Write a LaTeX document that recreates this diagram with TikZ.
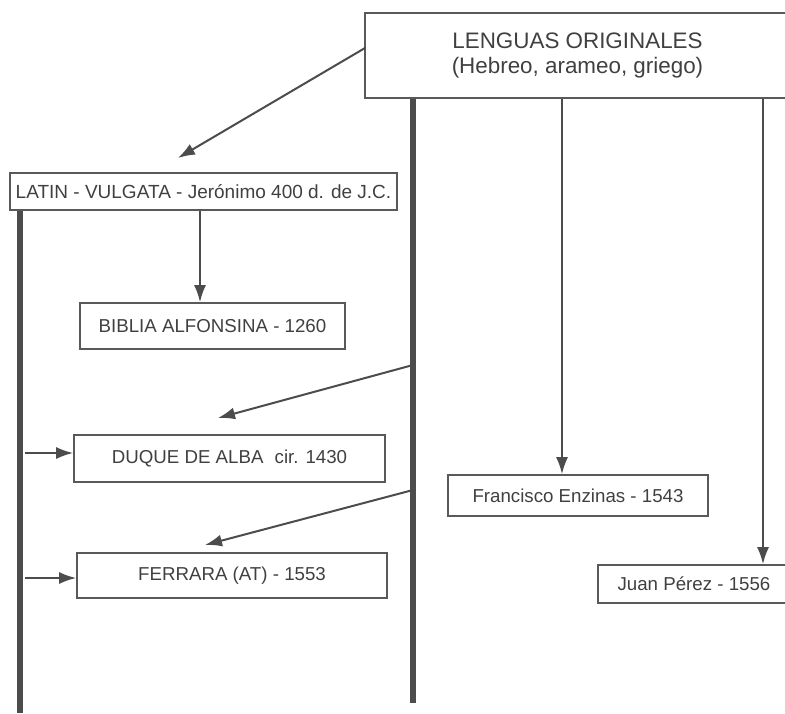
\documentclass[tikz,border=0pt]{standalone}
\usepackage{fontspec}
\setmainfont{Liberation Sans}
\usetikzlibrary{arrows.meta, positioning}

\tikzset{
  caja/.style = {draw = black!65, line width = 1.6pt, text = black!75, inner sep = 0pt,
                 font = \fontsize{18.7}{21}\selectfont},
  flecha/.style = {draw = black!70, line width = 2pt, -{Latex[length=17pt, width=12pt]}},
  eje/.style = {draw = black!70, line width = 5.5pt},
}

\begin{document}
\begin{tikzpicture}[x = 1pt, y = -1pt]
            \useasboundingbox (0,0) rectangle (785,713);
            \node[caja, minimum width = 425, minimum height = 85, align = center,
                  font = \fontsize{22.4}{25}\selectfont] (orig) at (577.5,55.5)
                  {LENGUAS ORIGINALES\\(Hebreo, arameo, griego)};
            \node[caja, minimum width = 387, minimum height = 37,
                  font = \fontsize{19}{21}\selectfont] (latin) at (203.5,191.5)
                  {LATIN - VULGATA - Jerónimo 400 d. de J.C.};
            \node[caja, minimum width = 265, minimum height = 46] (biblia) at (212.5,326)
                  {BIBLIA ALFONSINA - 1260};
            \node[caja, minimum width = 311, minimum height = 47] (duque) at (229.5,458.5)
                  {DUQUE DE ALBA\hspace{0.6em}cir. 1430};
            \node[caja, minimum width = 310, minimum height = 45] (ferrara) at (232,575.5)
                  {FERRARA (AT) - 1553};
            \node[caja, minimum width = 260, minimum height = 41] (enzinas) at (578,495.5)
                  {Francisco Enzinas - 1543};
            \node[caja, minimum width = 192, minimum height = 38] (perez) at (694,584)
                  {Juan Pérez - 1556};

            % troncos
            \coordinate (tronco) at (413,703);
            \coordinate (vulg) at (20,713);
            \draw[eje] (orig.south -| tronco) -- (tronco);
            \draw[eje] (latin.south -| vulg) -- (vulg);

            % flechas
            \coordinate (o1) at (365,48);
            \coordinate (a1) at (178,158);
            \coordinate (d1) at (413,365);
            \coordinate (d2) at (218,418);
            \coordinate (f1) at (413,490);
            \coordinate (f2) at (205,545);
            \coordinate (izq1) at (25,453);
            \coordinate (izq2) at (25,578);
            \draw[flecha] (o1) -- (a1);
            \draw[flecha] (latin.south -| 200,0) -- (biblia.north -| 200,0);
            \draw[flecha] (d1) -- (d2);
            \draw[flecha] (f1) -- (f2);
            \draw[flecha] (izq1) -- (izq1 -| duque.west);
            \draw[flecha] (izq2) -- (izq2 -| ferrara.west);
            \draw[flecha] (orig.south -| 562,0) -- (enzinas.north -| 562,0);
            \draw[flecha] (orig.south -| 763,0) -- (perez.north -| 763,0);
        \end{tikzpicture}
\end{document}
